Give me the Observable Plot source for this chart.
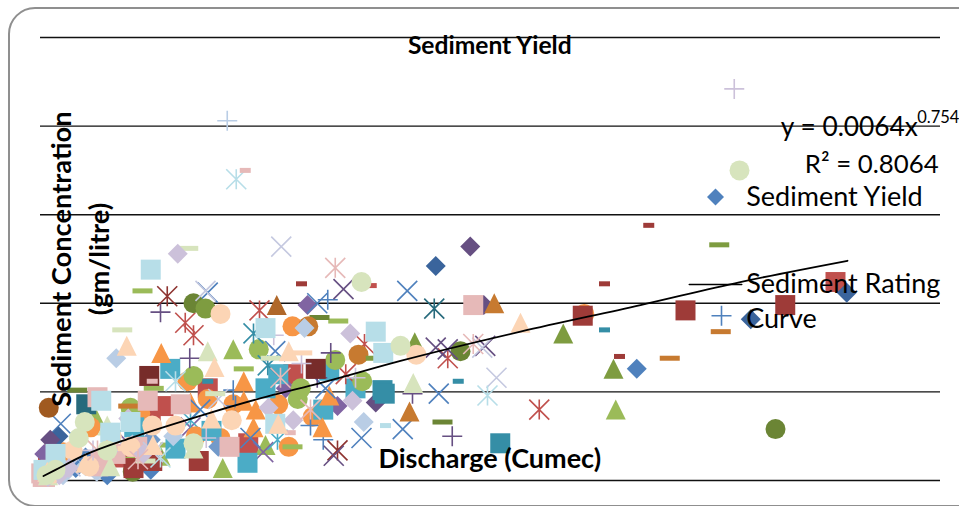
<!DOCTYPE html>
<html><head><meta charset="utf-8">
<script src="https://cdn.jsdelivr.net/npm/d3@7"></script>
<script src="https://cdn.jsdelivr.net/npm/@observablehq/plot@0.6"></script>
<style>
html,body{margin:0;padding:0;background:#fff;overflow:hidden;width:959px;height:506px}
#frame{position:absolute;left:8px;top:7px;width:1010px;height:496px;border:2px solid #8f8f8f;border-radius:27px;pointer-events:none}
#chart{position:absolute;left:0;top:0}
</style></head><body>
<div id="chart"></div><div id="frame"></div>
<script>
// Discharge (cumec), sediment concentration (gm/litre) pairs
const blueDiamond=[[795,.63],[93,.10],[47,.07],[147,.06],[60,.13],[89,.03],[20,.05]];
const redSquare=[[1060,1.12],[223,.52],[277,.21],[164,.42],[337,.60],[147,.34],[107,.13],[10,.10],[25,.12]];
const greenTriangle=[[767,.40],[257,.74],[243,.07],[80,.12],[160,.14],[300,.20],[73,.36]];
const purpleTimes=[[297,.16],[200,.30],[120,.20]];
const tealStar=[[316,.23],[200,.34],[100,.25]];
const orangeCircle=[[336,.87],[331,.19],[196,.56],[317,.43],[363,.36],[16,.17],[725,.94],[133,.38],[240,.24],[67,.30],[223,.46],[257,.43],[30,.16],[207,.25]];
const bluePlus=[[383,1.02],[377,.23],[360,.31],[908,.93],[260,.42],[257,.51]];
const redShort=[[441,1.10]];
const greenLong=[[136,1.07],[397,.90],[336,.19],[151,.52],[271,.63],[173,.20],[113,.12]];
const purpleDiamond=[[356,.99],[327,.52],[396,.42],[5,.15]];
const tealSquare=[[173,.63],[317,.60],[300,.52],[385,.62],[420,.52],[377,.40],[276,.10],[228,.28],[180,.18],[125,.30]];
const orangeTriangle=[[161,.72],[271,.56],[287,.40],[385,.48],[376,.30],[284,.30],[200,.44],[271,.45]];
const blueTimes=[[223,1.06],[489,1.07],[313,.73],[369,1.0],[380,.52],[428,.24],[483,.29],[531,.49],[280,.24],[27,.32],[213,.40]];
const redStar=[[292,.96],[193,.89],[204,.82],[543,.69],[432,.77],[407,.60],[665,.40]];
const greenCircle=[[291,.74],[393,.68],[204,.59],[343,.46],[347,.52],[429,.56],[120,.41]];
const purplePlus=[[160,.95],[199,.69],[387,.72],[369,.58],[496,.49],[549,.25]];
const tealShort=[[557,.56],[223,.56]];
const orangeLong=[[117,.42],[907,.84],[839,.69]];
const darkRedSquare=[[145,.59],[367,.63]];
const darkGreenCircle=[[980,.29],[204,1.0],[560,.73],[123,.05]];
const darkTealStar=[[525,.97]];
const darkTealSquare=[[61,.43]];
const darkOrangeCircle=[[11,.41]];
const darkOrangeTriangle=[[315,.99]];
const darkGreenLong=[[49,.51],[372,.92],[536,.33]];
const darkRedStar=[[169,1.04],[396,.17]];
const darkPurpleTimes=[[404,1.08],[527,.75],[543,.74],[593,.76],[391,.14]];
const midBlueDiamond=[[1075,1.06],[947,.91],[527,1.21],[24,.25]];
const midRedSquare=[[993,.99],[860,.96],[723,.93],[211,.11],[124,.07],[149,.11]];
const midGreenTriangle=[[697,.83],[764,.63],[499,.78]];
const midPurpleDiamond=[[573,1.32],[13,.23],[447,.44],[591,.99]];
const midTealSquare=[[613,.21],[456,.51],[459,.49]];
const midOrangeTriangle=[[605,1.0],[492,.39]];
const midOrangeCircle=[[357,.87],[424,.71]];
const midGreenCircle=[[220,.97]];
const midRedShort=[[811,1.44],[348,1.11],[752,1.11],[772,.70]];
const midGreenLong=[[905,1.33],[447,.69]];
const midTealShort=[[752,.85]];
const midTealStar=[[284,.83],[303,.65]];
const softBlueDiamond=[[237,.19],[147,.23]];
const paleBlueDiamond=[[101,.69],[352,.86],[431,.33],[177,.25],[60,.08],[30,.03],[75,.05]];
const palePinkSquare=[[577,.99],[76,.47],[143,.45],[187,.43],[252,.19],[1,.04],[6,.02],[14,.06],[129,.19],[80,.11],[77,.08],[3,.02],[100,.15]];
const paleGreenTriangle=[[497,.55],[223,.73],[89,.31],[204,.18],[93,.08],[10,.03]];
const paleTimes=[[321,1.32],[608,.58],[589,.75],[220,1.07],[110,.20],[237,.46],[40,.08],[150,.16]];
const paleTealStar=[[261,1.70],[596,.48],[180,.56],[160,.13]];
const palePeachCircle=[[240,.94],[501,.71],[255,.34],[149,.31],[43,.17],[95,.25],[17,.04],[180,.31],[65,.08],[120,.19]];
const palePurplePlus=[[925,2.21],[348,.66],[311,.82],[420,.58],[221,.24],[5,.04],[70,.17]];
const paleBluePlus=[[249,2.03]];
const palePinkShort=[[273,1.75],[149,.56],[473,.75],[333,.27]];
const paleGreenLong=[[197,1.31],[109,.85],[307,.69],[233,.49],[140,.11]];
const palePurpleDiamond=[[183,1.28],[413,.83],[117,.35],[304,.41],[337,.34],[416,.45],[10,.02],[25,.03],[137,.15],[38,.07]];
const paleTealSquare=[[147,1.19],[447,.84],[300,.86],[81,.45],[457,.72],[313,.32],[20,.15],[4,.06],[93,.27],[120,.33]];
const palePeachTriangle=[[640,.89],[115,.76],[331,.73],[232,.64],[228,.35],[317,.32],[150,.20],[9,.05],[60,.10]];
const palePinkStar=[[393,1.20],[577,.77],[320,.58],[360,.40],[76,.17],[130,.12]];
const paleGreenCircle=[[932,1.75],[428,1.12],[480,.76],[59,.33],[51,.24],[89,.17],[204,.21],[8,.03],[20,.06]];
const paleTealShort=[[460,.31]];
const palePeachLong=[[116,.18],[349,.72]];
// Fitted rating curve
const curveX=[4,20,57,124,213,303,373,480,640,800,933,1076];
const curveY=[.025,.06,.14,.245,.365,.475,.55,.675,.84,.99,1.12,1.24];
const gridValues=[0,.5,1,1.5,2,2.5];
const legendMarker=[[900,1.60]];
const legendLineX=[865,935];
const legendLineY=[1.106,1.106];

function line(c,a,b,d,e){c.moveTo(a,b);c.lineTo(d,e);}
const R=10;
const shapes={
 diamond:{draw(c){c.moveTo(0,-R);c.lineTo(R,0);c.lineTo(0,R);c.lineTo(-R,0);c.closePath();}},
 smallDiamond:{draw(c){c.moveTo(0,-8.5);c.lineTo(8.5,0);c.lineTo(0,8.5);c.lineTo(-8.5,0);c.closePath();}},
 square:{draw(c){c.rect(-R,-R,2*R,2*R);}},
 triangle:{draw(c){c.moveTo(0,-R);c.lineTo(R,R);c.lineTo(-R,R);c.closePath();}},
 circle:{draw(c){c.moveTo(R,0);c.arc(0,0,R,0,2*Math.PI);}},
 short:{draw(c){c.rect(-5.5,-2.5,11,5);}},
 long:{draw(c){c.rect(-R,-2.5,2*R,5);}},
 times:{draw(c){line(c,-R,-R,R,R);line(c,-R,R,R,-R);}},
 star:{draw(c){line(c,-R,-R,R,R);line(c,-R,R,R,-R);line(c,0,-R,0,R);}},
 plus:{draw(c){line(c,-R,0,R,0);line(c,0,-R,0,R);}}
};
const strokeShapes=new Set(["times","star","plus"]);
const series=[
 [blueDiamond,"diamond","#4F81BD"],[redSquare,"square","#C0504D"],[greenTriangle,"triangle","#9BBB59"],
 [purpleTimes,"times","#8064A2"],[tealStar,"star","#4BACC6"],[orangeCircle,"circle","#F79646"],
 [bluePlus,"plus","#4F81BD"],[redShort,"short","#C0504D"],[greenLong,"long","#9BBB59"],
 [purpleDiamond,"diamond","#8064A2"],[tealSquare,"square","#4BACC6"],[orangeTriangle,"triangle","#F79646"],
 [blueTimes,"times","#4F81BD"],[redStar,"star","#C0504D"],[greenCircle,"circle","#9BBB59"],
 [purplePlus,"plus","#664F82"],[tealShort,"short","#358EA6"],[orangeLong,"long","#C77A30"],
 [darkRedSquare,"square","#772C2A"],[darkGreenCircle,"circle","#6B8535"],[darkTealStar,"star","#276A7C"],
 [darkTealSquare,"square","#276A7C"],[darkOrangeCircle,"circle","#A05A20"],[darkOrangeTriangle,"triangle","#B0682A"],
 [darkGreenLong,"long","#6B8535"],[darkRedStar,"star","#8E3330"],[darkPurpleTimes,"times","#664F82"],
 [midBlueDiamond,"diamond","#3A649C"],[midRedSquare,"square","#9E3B38"],[midGreenTriangle,"triangle","#7E9C40"],
 [midPurpleDiamond,"diamond","#664F82"],[midTealSquare,"square","#358EA6"],[midOrangeTriangle,"triangle","#C77A30"],
 [midOrangeCircle,"circle","#C77A30"],[midGreenCircle,"circle","#7E9C40"],[midRedShort,"short","#9E3B38"],
 [midGreenLong,"long","#7E9C40"],[midTealShort,"short","#358EA6"],[midTealStar,"star","#358EA6"],
 [softBlueDiamond,"diamond","#729ACA"],
 [paleBlueDiamond,"diamond","#B9CDE5"],[palePinkSquare,"square","#E6B9B8"],[paleGreenTriangle,"triangle","#D7E4BD"],
 [paleTimes,"times","#C5C9E0"],[paleTealStar,"star","#B7DEE8"],[palePeachCircle,"circle","#FCD5B5"],
 [palePurplePlus,"plus","#CCC1DA"],[paleBluePlus,"plus","#B9CDE5"],[palePinkShort,"short","#E6B9B8"],
 [paleGreenLong,"long","#D7E4BD"],[palePurpleDiamond,"diamond","#CCC1DA"],[paleTealSquare,"square","#B7DEE8"],
 [palePeachTriangle,"triangle","#FCD5B5"],[palePinkStar,"star","#E6B9B8"],[paleGreenCircle,"circle","#D7E4BD"],
 [paleTealShort,"short","#B7DEE8"],[palePeachLong,"long","#FCD5B5"]
];
const font="Lato, Carlito, Calibri, sans-serif";
const label=(t,x,y,o={})=>Plot.text([t],{x:()=>x,y:()=>y,text:d=>d,fontFamily:font,fill:"#000",fontSize:27,textAnchor:"start",...o});
const chart=Plot.plot({
 width:959,height:506,marginLeft:40,marginRight:19,marginTop:37,marginBottom:26,
 style:{background:"transparent"},
 x:{axis:null,domain:[0,1200]},y:{axis:null,domain:[0,2.5]},
 marks:[
  Plot.ruleY(gridValues,{stroke:"#111",strokeWidth:1.4}),
  ...series.map(([data,shape,color])=>Plot.dot(data,{
    x:d=>d[0],y:d=>d[1],symbol:shapes[shape],r:10,
    ...(strokeShapes.has(shape)?{fill:"none",stroke:color,strokeWidth:1.6}:{fill:color,stroke:"none"})
  })),
  Plot.line(curveX.map((x,i)=>[x,curveY[i]]),{x:"0",y:"1",curve:"monotone-x",stroke:"#000",strokeWidth:1.8}),
  Plot.dot(legendMarker,{x:d=>d[0],y:d=>d[1],symbol:shapes.smallDiamond,r:10,fill:"#4F81BD",stroke:"none"}),
  Plot.line(legendLineX.map((x,i)=>[x,legendLineY[i]]),{x:"0",y:"1",stroke:"#000",strokeWidth:1.5}),
  label("Sediment Yield",599,2.45,{textAnchor:"middle",fontWeight:"bold",fontSize:24.6}),
  label("Discharge (Cumec)",599,.12,{textAnchor:"middle",fontWeight:"bold",fontSize:27}),
  label("Sediment Concentration",29,1.25,{textAnchor:"middle",fontWeight:"bold",fontSize:27.3,rotate:-90}),
  label("(gm/litre)",80,1.25,{textAnchor:"middle",fontWeight:"bold",fontSize:27.3,rotate:-90}),
  label("y = 0.0064x",987,1.99,{fontSize:26.3}),
  label("0.754",1169,2.05,{fontSize:16.5}),
  label("R² = 0.8064",1019,1.78,{fontSize:25.8}),
  label("Sediment Yield",941,1.60),
  label("Sediment Rating",941,1.106),
  label("Curve",941,.91)
 ]
});
document.getElementById("chart").append(chart);
</script></body></html>
